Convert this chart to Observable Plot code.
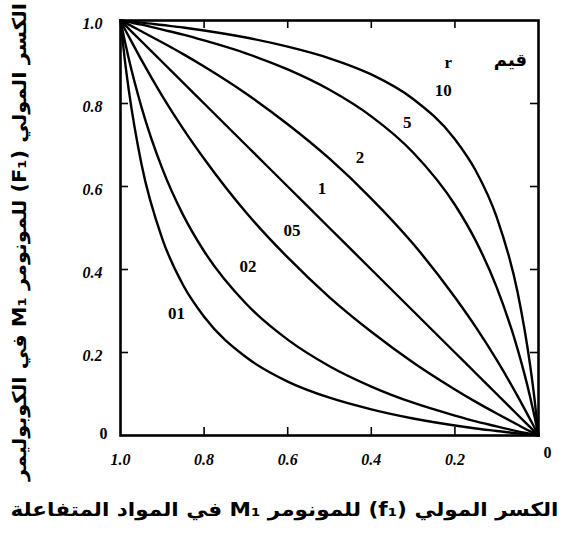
<!DOCTYPE html>
<html><head><meta charset="utf-8">
<script src="https://cdn.jsdelivr.net/npm/d3@7"></script>
<script src="https://cdn.jsdelivr.net/npm/@observablehq/plot@0.6"></script>
<style>html,body{margin:0;padding:0;background:#fff} svg{display:block}</style>
</head><body><div id="chart"></div>
<script>
// monomer M1 mole fraction in feed (f1)
const f1 = [0, 0.01, 0.02, 0.05, 0.1, 0.15, 0.2, 0.3, 0.4, 0.5, 0.6, 0.7, 0.8, 0.85, 0.9, 0.95, 0.98, 0.99, 1];
// copolymer composition F1 for each r value
const F_r01 = [0, 0.001, 0.002, 0.005, 0.011, 0.017, 0.024, 0.041, 0.063, 0.091, 0.130, 0.189, 0.286, 0.362, 0.474, 0.655, 0.831, 0.908, 1];
const F_r02 = [0, 0.002, 0.004, 0.010, 0.022, 0.034, 0.048, 0.079, 0.118, 0.167, 0.231, 0.318, 0.444, 0.531, 0.643, 0.792, 0.907, 0.952, 1];
const F_r05 = [0, 0.005, 0.010, 0.026, 0.053, 0.081, 0.111, 0.176, 0.250, 0.333, 0.429, 0.538, 0.667, 0.739, 0.818, 0.905, 0.961, 0.980, 1];
const F_r1  = [0, 0.010, 0.020, 0.050, 0.100, 0.150, 0.200, 0.300, 0.400, 0.500, 0.600, 0.700, 0.800, 0.850, 0.900, 0.950, 0.980, 0.990, 1];
const F_r2  = [0, 0.020, 0.039, 0.095, 0.182, 0.261, 0.333, 0.462, 0.571, 0.667, 0.750, 0.824, 0.889, 0.919, 0.947, 0.974, 0.990, 0.995, 1];
const F_r5  = [0, 0.048, 0.093, 0.208, 0.357, 0.469, 0.556, 0.682, 0.769, 0.833, 0.882, 0.921, 0.952, 0.966, 0.978, 0.990, 0.996, 0.998, 1];
const F_r10 = [0, 0.092, 0.169, 0.345, 0.526, 0.638, 0.714, 0.811, 0.870, 0.909, 0.937, 0.959, 0.976, 0.983, 0.989, 0.995, 0.998, 0.999, 1];

const rNames = ["01", "02", "05", "1", "2", "5", "10"];
const series = [F_r01, F_r02, F_r05, F_r1, F_r2, F_r5, F_r10];

// curve label anchor points (f1, F1)
const labelF1 = [0.866, 0.695, 0.590, 0.518, 0.427, 0.314, 0.228];
const labelFF = [0.294, 0.407, 0.494, 0.595, 0.670, 0.754, 0.831];

// ticks and tick labels
const tickVals = [0.2, 0.4, 0.6, 0.8];
const xLabelVals = [1, 0.8, 0.6, 0.4, 0.2];
const xLabelText = ["1.0", "0.8", "0.6", "0.4", "0.2"];
const yLabelVals = [1, 0.8, 0.6, 0.4, 0.2];
const yLabelText = ["1.0", "0.8", "0.6", "0.4", "0.2"];
const zeroLabel = ["0"];

// legend and titles
const legendR = ["r"];
const legendWord = ["قيم"];
const legendAt = [[0.216, 0.899], [0.067, 0.904]];
const yTitle = ["الكسر المولي (F₁) للمونومر M₁ في الكوبوليمر"];
const xTitle = ["الكسر المولي (f₁) للمونومر M₁ في المواد المتفاعلة"];

const rows = series.flatMap((s, i) => s.map((v, j) => ({r: rNames[i], f1: f1[j], F1: v})));

const serif = "Liberation Serif, DejaVu Serif, serif";
const arab = "DejaVu Sans, sans-serif";

const chart = Plot.plot({
  width: 567, height: 535,
  marginLeft: 120, marginRight: 29, marginTop: 20, marginBottom: 100,
  x: {domain: [0, 1], reverse: true, axis: null},
  y: {domain: [0, 1], axis: null},
  style: {background: "#fff", color: "#000", overflow: "visible"},
  marks: [
    Plot.line(rows, {x: "f1", y: "F1", z: "r", stroke: "#000", strokeWidth: 2.4, curve: "monotone-x"}),
    Plot.frame({stroke: "#000", strokeWidth: 2.6}),
    Plot.ruleX(tickVals, {x: d => d, stroke: "#000", strokeWidth: 1.6, insetTop: 407}),
    Plot.ruleX(tickVals, {x: d => d, stroke: "#000", strokeWidth: 1.6, insetBottom: 407}),
    Plot.ruleY(tickVals, {y: d => d, stroke: "#000", strokeWidth: 1.6, insetRight: 410}),
    Plot.ruleY(tickVals, {y: d => d, stroke: "#000", strokeWidth: 1.6, insetLeft: 410}),
    Plot.text(xLabelVals, {x: d => d, text: (d, i) => xLabelText[i], frameAnchor: "bottom", dy: 29,
      fontStyle: "italic", fontWeight: "bold", fontFamily: serif, fontSize: 16, fill: "#000"}),
    Plot.text(zeroLabel, {x: 0, text: d => d, frameAnchor: "bottom", dx: 9, dy: 22,
      fontWeight: "bold", fontFamily: serif, fontSize: 16, fill: "#000"}),
    Plot.text(yLabelVals, {y: d => d, text: (d, i) => yLabelText[i], frameAnchor: "left", dx: -18, dy: 3, textAnchor: "end",
      fontStyle: "italic", fontWeight: "bold", fontFamily: serif, fontSize: 16, fill: "#000"}),
    Plot.text(zeroLabel, {y: 0, text: d => d, frameAnchor: "left", dx: -13, dy: -2, textAnchor: "end",
      fontWeight: "bold", fontFamily: serif, fontSize: 16, fill: "#000"}),
    Plot.text(rNames, {x: (d, i) => labelF1[i], y: (d, i) => labelFF[i], text: d => d,
      fontWeight: "bold", fontFamily: serif, fontSize: 17, fill: "#000"}),
    Plot.text(legendR, {x: legendAt[0][0], y: legendAt[0][1], text: d => d,
      fontWeight: "bold", fontFamily: serif, fontSize: 17, fill: "#000"}),
    Plot.text(legendWord, {x: legendAt[1][0], y: legendAt[1][1], text: d => d,
      fontWeight: "bold", fontFamily: arab, fontSize: 18, fill: "#000"}),
    Plot.text(yTitle, {text: d => d, frameAnchor: "left", textAnchor: "middle", dx: -101, dy: 14, rotate: -90,
      fontWeight: "bold", fontFamily: arab, fontSize: 19, fill: "#000"}),
    Plot.text(xTitle, {text: d => d, frameAnchor: "bottom", textAnchor: "middle", dx: -45, dy: 80,
      fontWeight: "bold", fontFamily: arab, fontSize: 19, fill: "#000"})
  ]
});
// Arabic titles: right-to-left base direction, stretched to the reference's extent
const arabicTexts = d3.select(chart).selectAll("text")
  .filter(function() { return /[\u0600-\u06FF]/.test(this.textContent); })
  .attr("direction", "rtl")
  .style("unicode-bidi", "embed");
arabicTexts.filter(function() { return this.textContent === yTitle[0]; })
  .attr("textLength", 478).attr("lengthAdjust", "spacingAndGlyphs");
arabicTexts.filter(function() { return this.textContent === xTitle[0]; })
  .attr("textLength", 548).attr("lengthAdjust", "spacingAndGlyphs");
document.getElementById("chart").appendChild(chart);
</script>
</body></html>
